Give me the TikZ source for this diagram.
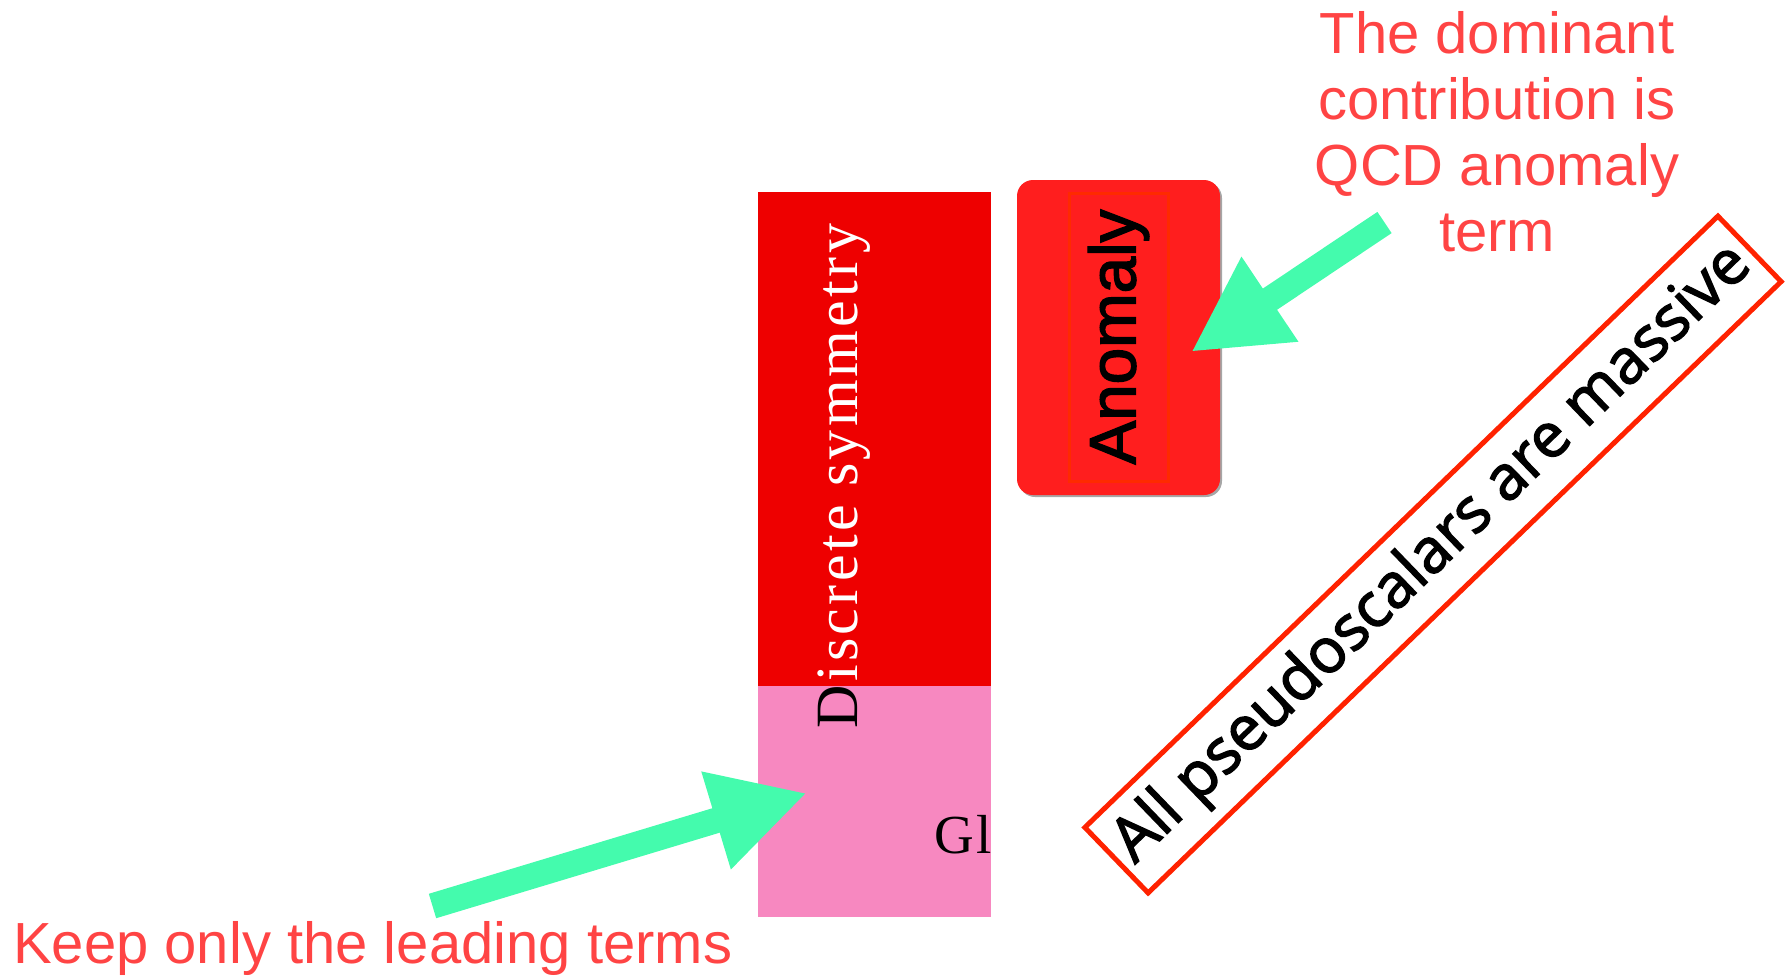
\documentclass[tikz,border=0pt]{standalone}
\usepackage{fontspec}
\usetikzlibrary{arrows.meta,shadows}
\newfontfamily\sansA{Liberation Sans}
\newfontfamily\sansAheavy{Liberation Sans}[FakeBold=2.2]
\newfontfamily\serifD{Liberation Serif}[LetterSpace=5.5]
\newfontfamily\sansO{Open Sans}[FakeBold=2.2]
\definecolor{discred}{RGB}{238,0,0}
\definecolor{globpink}{RGB}{247,136,192}
\definecolor{anomred}{RGB}{255,30,30}
\definecolor{innerline}{RGB}{255,42,0}
\definecolor{arrowgreen}{RGB}{68,251,173}
\definecolor{notered}{RGB}{255,68,68}
\definecolor{framered}{RGB}{255,34,0}
\begin{document}
\begin{tikzpicture}[x=1pt,y=-1pt,
  block/.style={inner sep=0pt, outer sep=0pt, anchor=north west},
  notetext/.style={text=notered, inner sep=0pt, font=\sansA\fontsize{58}{66}\selectfont},
  greenarrow/.style={draw=arrowgreen, line width=25.5pt,
    -{Triangle[length=95pt,width=95pt]}},
  vertlabel/.style={rotate=90, anchor=base, inner sep=0pt,
    font=\serifD\fontsize{60}{64}\selectfont}
]
\useasboundingbox (0,0) rectangle (1785,977);

% stacked blocks
\node[block, fill=discred, minimum width=233pt, minimum height=494pt] (disc) at (758,192) {};
\node[block, fill=globpink, minimum width=233pt, minimum height=231pt] (glob) at (758,686) {};

% vertical label: white on red, black on pink
\begin{scope}
  \clip (disc.south west) rectangle (disc.north east);
  \node[vertlabel, text=white] (dlab) at (857,476) {Discrete symmetry};
\end{scope}
\begin{scope}
  \clip (glob.south west) rectangle (glob.north east);
  \node[vertlabel, text=black] at (857,476) {Discrete symmetry};
  \node[anchor=base west, inner sep=0pt, font=\serifD\fontsize{55}{60}\selectfont] (glab) at (934,853) {Gl};
\end{scope}

% anomaly box
\node[block, fill=anomred, rounded corners=16pt, minimum width=203pt, minimum height=315pt,
  drop shadow={shadow xshift=2pt, shadow yshift=-2pt, opacity=0.35, fill=black}] (anom) at (1017,180) {};
\node[rotate=90, draw=innerline, line width=3pt, inner sep=0pt, minimum width=288pt, minimum height=99pt,
  font=\sansAheavy\fontsize{65.5}{70}\selectfont] (alab) at (1118.5,337) {Anomaly};

% diagonal framed statement
\node[rotate=44, draw=framered, line width=5pt, inner sep=0pt, minimum width=880pt, minimum height=91pt,
  font=\sansO\fontsize{62}{66}\selectfont] (mass) at (1433,554.5) {All pseudoscalars are massive};

% annotations
\node[notetext, align=center, anchor=north] (note1) at (1497,11) {The dominant\\contribution is\\QCD anomaly\\term};
\node[notetext, anchor=base west] (note2) at (13,963) {Keep only the leading terms};

% pointers
\coordinate (t1) at (1384.5,222.5);
\coordinate (h1) at (1191,352);
\coordinate (t2) at (432.5,906);
\coordinate (h2) at (807,793);
\draw[greenarrow] (t1) -- (h1);
\draw[greenarrow] (t2) -- (h2);
\end{tikzpicture}
\end{document}
